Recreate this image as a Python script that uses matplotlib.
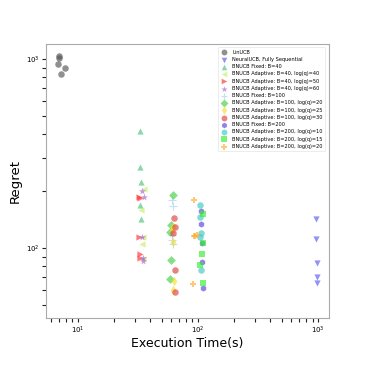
import matplotlib
matplotlib.use("Agg")
import matplotlib.pyplot as plt

# ---- data (execution time in s, regret) ----
lin_t = [6.9, 7.0, 6.85, 7.8, 7.3]
lin_r = [1030, 1010, 940, 895, 835]

neural_t = [970, 970, 975, 975, 985]
neural_r = [142, 112, 83, 70, 65.5]

f40_t = [32.9, 33.2, 33.4, 33.0, 33.6]
f40_r = [416, 269, 224, 168, 142]

a40_40_t = [35.2, 33.6, 34.7, 34.4, 34.7]
a40_40_r = [206, 159, 115, 105, 87.5]

a40_50_t = [32.5, 32.8, 32.2, 33.0, 32.8]
a40_50_r = [186, 184, 114, 93, 88.5]

a40_60_t = [34.4, 35.3, 34.0, 35.0, 34.6]
a40_60_r = [201, 187, 114, 89, 86]

f100_t = [60.5, 62.0, 61.0, 61.0, 61.5]
f100_r = [180, 166, 118, 110, 105]

a100_20_t = [61.5, 60.0, 58.3, 60.0, 59.0]
a100_20_r = [190, 133, 122, 86.4, 68.3]

a100_25_t = [62.0, 61.0, 62.0, 63.0, 61.5]
a100_25_r = [130, 125, 108, 67, 60.3]

a100_30_t = [63.0, 63.8, 61.8, 64.5, 65.0]
a100_30_r = [144.5, 130, 119.7, 76.6, 58.8]

f200_t = [107, 107, 109, 109, 110]
f200_r = [157, 133.5, 106, 84.7, 61.8]

a200_10_t = [104, 105, 105, 106, 106]
a200_10_r = [168, 146.5, 115, 76.6, 120]

a200_15_t = [111, 110, 109, 104, 110]
a200_15_r = [151.5, 106, 93, 81.8, 65.5]

a200_20_t = [92, 94, 98, 91, 93]
a200_20_r = [179.5, 115.6, 117, 65, 116]

series = [
    ("LinUCB", lin_t, lin_r, "o", "#555555", 22),
    ("NeuralUCB, Fully Sequential", neural_t, neural_r, "v", "#5a5af0", 20),
    ("BNUCB Fixed: B=40", f40_t, f40_r, "^", "#4cc47a", 20),
    ("BNUCB Adaptive: B=40, log(q)=40", a40_40_t, a40_40_r, "<", "#c4f060", 20),
    ("BNUCB Adaptive: B=40, log(q)=50", a40_50_t, a40_50_r, ">", "#ff3030", 20),
    ("BNUCB Adaptive: B=40, log(q)=60", a40_60_t, a40_60_r, "*", "#a860d0", 28),
    ("BNUCB Fixed: B=100", f100_t, f100_r, "+", "#9fd0f0", 28),
    ("BNUCB Adaptive: B=100, log(q)=20", a100_20_t, a100_20_r, "D", "#44d044", 20),
    ("BNUCB Adaptive: B=100, log(q)=25", a100_25_t, a100_25_r, "d", "#f5e030", 24),
    ("BNUCB Adaptive: B=100, log(q)=30", a100_30_t, a100_30_r, "o", "#e04040", 22),
    ("BNUCB Fixed: B=200", f200_t, f200_r, "h", "#5a40d8", 20),
    ("BNUCB Adaptive: B=200, log(q)=10", a200_10_t, a200_10_r, "o", "#40c8c0", 22),
    ("BNUCB Adaptive: B=200, log(q)=15", a200_15_t, a200_15_r, "s", "#33ee33", 20),
    ("BNUCB Adaptive: B=200, log(q)=20", a200_20_t, a200_20_r, "P", "#ffaa30", 24),
]

fig = plt.figure(figsize=(3.66, 3.66), dpi=100)
ax = fig.add_axes([0.125, 0.131, 0.774, 0.749])

for label, t, r, m, c, s in series:
    ax.scatter(t, r, marker=m, color=c, s=s, alpha=0.65, linewidths=0.8 if m == "+" else 0,
               label=label)

ax.set_xscale("log")
ax.set_yscale("log")
ax.set_xlim(5.4, 1235)
ax.set_ylim(42.7, 1200)

for sp in ax.spines.values():
    sp.set_color("#aaaaaa")
    sp.set_linewidth(0.8)

ax.tick_params(which="both", labelsize=5, length=3, width=0.8, color="#222222", pad=1.5)
ax.tick_params(which="minor", labelleft=False, labelbottom=False)

ax.set_xlabel("Execution Time(s)", fontsize=9, labelpad=1)
ax.set_ylabel("Regret", fontsize=9.5, labelpad=3)

leg = ax.legend(loc="upper right", fontsize=3.6, frameon=True, labelspacing=0.45,
                handlelength=1.4, handletextpad=1.0, borderpad=0.5, markerscale=0.9,
                bbox_to_anchor=(0.995, 0.997))
leg.get_frame().set_edgecolor("#dddddd")
leg.get_frame().set_linewidth(0.5)

fig.savefig("out.png", dpi=100)
